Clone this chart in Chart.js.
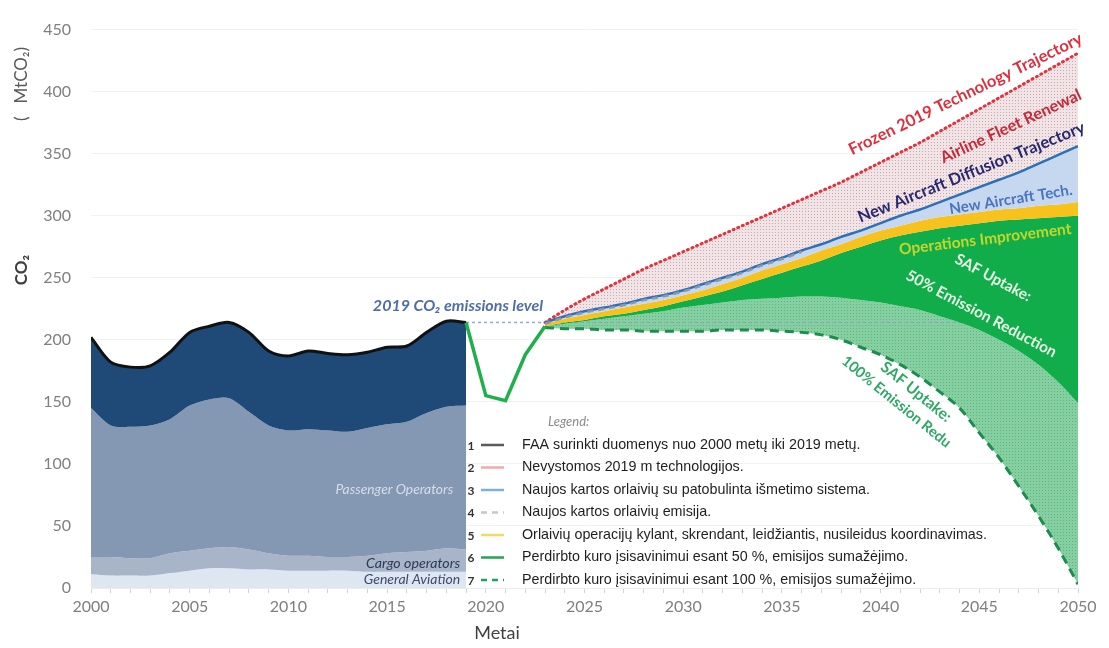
<!DOCTYPE html>
<html lang="lt">
<head>
<meta charset="utf-8">
<title>CO2 emisijos</title>
<script src="https://cdn.jsdelivr.net/npm/chart.js@4.4.1/dist/chart.umd.min.js"></script>
<style>
  html, body { margin: 0; padding: 0; background: #fff; }
  canvas { display: block; }
</style>
</head>
<body>
<canvas id="chart1" width="1109" height="648"></canvas>
<script>
// FAA duomenys 2000-2019 (ribos tarp sluoksniu)
const histYears = [2000, 2001, 2002, 2003, 2004, 2005, 2006, 2007, 2008, 2009,
                   2010, 2011, 2012, 2013, 2014, 2015, 2016, 2017, 2018, 2019];
const totalEmissions = [202, 182, 178, 179, 190, 206, 211, 214, 206, 191,
                        187, 191, 189, 188, 190, 194, 195, 206, 215, 214];
const passengerTop = [145, 131, 130, 131, 136, 147, 152, 153, 142, 131,
                      127, 128, 127, 126, 129, 132, 134, 141, 146, 147];
const cargoTop = [25, 25, 24, 24, 28, 30, 32, 33, 31, 28,
                  26, 26, 25, 25, 26, 28, 29, 30, 32, 31];
const generalAviationTop = [11, 10, 10, 10, 12, 14, 16, 16, 15, 15,
                            14, 14, 14, 14, 13, 13, 13, 13, 13, 13];

// pandemijos kritimas
const covidYears = [2019, 2020, 2021, 2022, 2023];
const covidEmissions = [214, 155, 151, 188, 211];

// prognozes 2023-2050
const projYears = [2023, 2024, 2025, 2026, 2027, 2028, 2029, 2030, 2031, 2032,
                   2033, 2034, 2035, 2036, 2037, 2038, 2039, 2040, 2041, 2042,
                   2043, 2044, 2045, 2046, 2047, 2048, 2049, 2050];
const frozenTech = [214, 224, 233, 241, 249, 257, 264, 271, 278, 285,
                    292, 299, 306, 313, 320, 327, 335, 343, 351, 359,
                    368, 377, 386, 395, 404, 413, 422, 431];
const fleetDiffusion = [214, 219, 223, 226, 229, 233, 236, 240, 245, 250,
                        255, 261, 266, 272, 277, 283, 288, 294, 300, 305,
                        311, 317, 323, 329, 335, 342, 349, 356];
const newAircraftYears = [2023, 2024, 2025, 2026, 2027, 2028, 2029, 2030, 2031, 2032, 2033, 2034, 2035, 2036];
const newAircraftTech = [213, 218, 222, 225, 228, 232, 235, 239, 244, 249, 254, 260, 265, 271];
const opsTop = [213, 217, 220, 223, 226, 229, 232, 236, 240, 245,
                250, 256, 261, 266, 272, 277, 283, 288, 292, 296,
                299, 301, 303, 305, 306, 308, 309, 311];
const opsBottom = [211, 214, 216, 219, 221, 224, 227, 231, 235, 239,
                   244, 249, 254, 259, 264, 270, 275, 280, 284, 287,
                   290, 292, 294, 296, 297, 298, 299, 300];
const saf50 = [211, 213, 215, 217, 219, 221, 223, 226, 228, 230,
               232, 233, 234, 235, 235, 234, 232, 230, 227, 224,
               219, 214, 208, 200, 191, 180, 166, 149];
const saf100 = [210, 209, 209, 208, 208, 207, 207, 207, 207, 208,
                208, 208, 207, 206, 204, 200, 194, 188, 180, 170,
                158, 145, 125, 105, 82, 58, 32, 3];
const levelYears = [2019, 2050];
const level2019 = [214, 214];

const yTicks = [0, 50, 100, 150, 200, 250, 300, 350, 400, 450];

const legendTexts = [
  'FAA surinkti duomenys nuo 2000 metų iki 2019 metų.',
  'Nevystomos 2019 m technologijos.',
  'Naujos kartos orlaivių su patobulinta išmetimo sistema.',
  'Naujos kartos orlaivių emisija.',
  'Orlaivių operacijų kylant, skrendant, leidžiantis, nusileidus koordinavimas.',
  'Perdirbto kuro įsisavinimui esant 50 %, emisijos sumažėjimo.',
  'Perdirbto kuro įsisavinimui esant 100 %, emisijos sumažėjimo.'
];

const pts = (xs, ys) => xs.map((v, i) => ({ x: v, y: ys[i] }));

function dots(bg, dot) {
  const c = document.createElement('canvas');
  c.width = 3; c.height = 3;
  const g = c.getContext('2d');
  g.fillStyle = bg; g.fillRect(0, 0, 3, 3);
  g.fillStyle = dot; g.fillRect(1, 1, 1, 1);
  return g.createPattern(c, 'repeat');
}
const pinkDots = dots('#efe4e6', '#d9a2a9');
const greenDots = dots('#86cfa0', '#5bb57f');

const font = 'Lato, "Open Sans", sans-serif';

const textLayer = {
  id: 'textLayer',
  afterDraw(chart) {
    const { ctx, scales: { x, y } } = chart;
    // tekstas pritaikomas prie norimo ilgio
    const put = (txt, yr, val, angle, width, style, color, align) => {
      ctx.save();
      ctx.translate(x.getPixelForValue(yr), y.getPixelForValue(val));
      ctx.rotate(angle * Math.PI / 180);
      ctx.font = style + ' 20px ' + font;
      const size = 20 * width / ctx.measureText(txt).width;
      ctx.font = style + ' ' + size.toFixed(1) + 'px ' + font;
      ctx.fillStyle = color;
      ctx.textAlign = align || 'center';
      ctx.textBaseline = 'middle';
      ctx.fillText(txt, 0, 0);
      ctx.restore();
    };
    put('Frozen 2019 Technology Trajectory', 2044.3, 398, -26, 258, 'bold', '#dc303d');
    put('Airline Fleet Renewal', 2046.6, 372, -25, 154, 'bold', '#c42a3a');
    put('New Aircraft Diffusion Trajectory', 2044.6, 335, -22, 244, 'bold', '#27286e');
    put('New Aircraft Tech.', 2046.6, 313, -9, 124, 'bold', '#4a74c0');
    put('Operations Improvement', 2045.3, 281, -7, 174, 'bold', '#c5d62a');
    put('SAF Uptake:', 2045.7, 250, 28, 84, 'bold', '#e9f6e6');
    put('50% Emission Reduction', 2045.1, 221, 28, 168, 'bold', '#e9f6e6');
    put('SAF Uptake:', 2041.8, 158, 39, 86, 'bold', '#2ea865');
    put('100% Emission Redu', 2040.8, 150, 39, 136, 'bold', '#2ea865');
    put('2019 CO₂ emissions level', 2022.9, 227, 0, 170, 'italic bold', '#4f6ea8', 'right');
    put('Passenger Operators', 2018.35, 79, 0, 118, 'italic', '#d7dee9', 'right');
    put('Cargo operators', 2018.7, 20, 0, 94, 'italic', '#2c3a57', 'right');
    put('General Aviation', 2018.7, 6.5, 0, 96, 'italic', '#3c4c6c', 'right');

    // asiu pavadinimai
    ctx.save();
    ctx.translate(22, 270);
    ctx.rotate(-Math.PI / 2);
    ctx.textAlign = 'center';
    ctx.textBaseline = 'middle';
    ctx.font = 'bold 17px ' + font;
    ctx.fillStyle = '#404040';
    ctx.fillText('CO₂', 0, 0);
    ctx.font = '17px ' + font;
    ctx.fillStyle = '#595959';
    ctx.fillText('(   MtCO₂)', 186, 0);
    ctx.restore();

    ctx.save();
    ctx.font = '18px ' + font;
    ctx.fillStyle = '#404040';
    ctx.textAlign = 'center';
    ctx.textBaseline = 'middle';
    ctx.fillText('Metai', 497, 633);
    ctx.restore();

    // legenda
    const styles = [
      { c: '#5a5a5a', d: [] },
      { c: '#f2a9ab', d: [] },
      { c: '#7fb0d6', d: [] },
      { c: '#c3c9d1', d: [6, 5] },
      { c: '#f4d766', d: [] },
      { c: '#23a456', d: [] },
      { c: '#23a05e', d: [6, 5] }
    ];
    ctx.save();
    ctx.font = 'italic 13px ' + font;
    ctx.fillStyle = '#8a8a8a';
    ctx.textBaseline = 'middle';
    ctx.fillText('Legend:', 548, 422);
    legendTexts.forEach((t, i) => {
      const ly = 445 + i * 22.5;
      ctx.font = 'bold 12px ' + font;
      ctx.fillStyle = '#333';
      ctx.textAlign = 'center';
      ctx.fillText(String(i + 1), 471, ly + 1);
      ctx.beginPath();
      ctx.setLineDash(styles[i].d);
      ctx.strokeStyle = styles[i].c;
      ctx.lineWidth = 2.5;
      ctx.moveTo(481, ly);
      ctx.lineTo(504, ly);
      ctx.stroke();
      ctx.setLineDash([]);
      ctx.font = '14.3px "Liberation Sans", Arial, sans-serif';
      ctx.fillStyle = '#1e1e1e';
      ctx.textAlign = 'left';
      ctx.fillText(t, 522, ly);
    });
    ctx.restore();
  }
};

const ctx = document.getElementById('chart1');

new Chart(ctx, {
  type: 'line',
  data: {
    datasets: [
      { label: 'total', data: pts(histYears, totalEmissions), borderColor: '#111', borderWidth: 3,
        backgroundColor: '#1f4a78', fill: 1, tension: 0.3, order: 9 },
      { label: 'passenger', data: pts(histYears, passengerTop), borderWidth: 0,
        backgroundColor: '#8497b3', fill: 2, tension: 0.3, order: 10 },
      { label: 'cargo', data: pts(histYears, cargoTop), borderWidth: 0,
        backgroundColor: '#a8b5c9', fill: 3, tension: 0.3, order: 11 },
      { label: 'ga', data: pts(histYears, generalAviationTop), borderWidth: 0,
        backgroundColor: '#dde6f1', fill: 'origin', tension: 0.3, order: 12 },
      { label: 'covid', data: pts(covidYears, covidEmissions), borderColor: '#1fb04b', borderWidth: 3.5,
        fill: false, tension: 0, order: 8 },
      { label: 'frozen', data: pts(projYears, frozenTech), borderColor: '#e3323f', borderWidth: 3,
        borderDash: [1, 4], borderCapStyle: 'round', backgroundColor: pinkDots, fill: 6,
        cubicInterpolationMode: 'monotone', order: 16 },
      { label: 'diffusion', data: pts(projYears, fleetDiffusion), borderColor: '#2e6fb5', borderWidth: 2.5,
        backgroundColor: '#c6d8ef', fill: 8, cubicInterpolationMode: 'monotone', order: 15 },
      { label: 'newAircraft', data: pts(newAircraftYears, newAircraftTech), borderColor: '#8b98aa', borderWidth: 2.5,
        borderDash: [6, 5], fill: false, cubicInterpolationMode: 'monotone', order: 14 },
      { label: 'opsTop', data: pts(projYears, opsTop), borderWidth: 0,
        backgroundColor: '#f8c21c', fill: 9, cubicInterpolationMode: 'monotone', order: 17 },
      { label: 'opsBottom', data: pts(projYears, opsBottom), borderWidth: 0,
        backgroundColor: '#10ad4a', fill: 10, cubicInterpolationMode: 'monotone', order: 18 },
      { label: 'saf50', data: pts(projYears, saf50), borderWidth: 0,
        backgroundColor: greenDots, fill: 11, cubicInterpolationMode: 'monotone', order: 20 },
      { label: 'saf100', data: pts(projYears, saf100), borderColor: '#1e8c4e', borderWidth: 3,
        borderDash: [9, 6], fill: false, cubicInterpolationMode: 'monotone', order: 13 },
      { label: 'level', data: pts(levelYears, level2019), borderColor: '#93a9c9', borderWidth: 1.5,
        borderDash: [3, 3], fill: false, order: 19 }
    ]
  },
  options: {
    responsive: false,
    animation: false,
    layout: { padding: { left: 0, right: 31, top: 21, bottom: 0 } },
    elements: { point: { radius: 0 } },
    plugins: {
      legend: { display: false },
      tooltip: { enabled: false },
      filler: { drawTime: 'beforeDatasetDraw' }
    },
    scales: {
      x: {
        type: 'linear', min: 2000, max: 2050,
        afterFit: (s) => { s.height = 60; },
        ticks: {
          stepSize: 1, autoSkip: false, maxRotation: 0, padding: 4,
          color: '#7f7f7f', font: { family: font, size: 16 },
          callback: (v) => (v % 5 === 0 ? String(v) : '')
        },
        grid: { drawOnChartArea: false, tickLength: 5, color: '#d4d4d4' },
        border: { color: '#ececec' }
      },
      y: {
        min: 0, max: 450,
        afterFit: (s) => { s.width = 91; },
        afterBuildTicks: (s) => { s.ticks = yTicks.map(v => ({ value: v })); },
        ticks: { padding: 20, color: '#7f7f7f', font: { family: font, size: 16 } },
        grid: { color: '#f2f2f2', drawTicks: false },
        border: { display: false }
      }
    }
  },
  plugins: [textLayer]
});
</script>
</body>
</html>
